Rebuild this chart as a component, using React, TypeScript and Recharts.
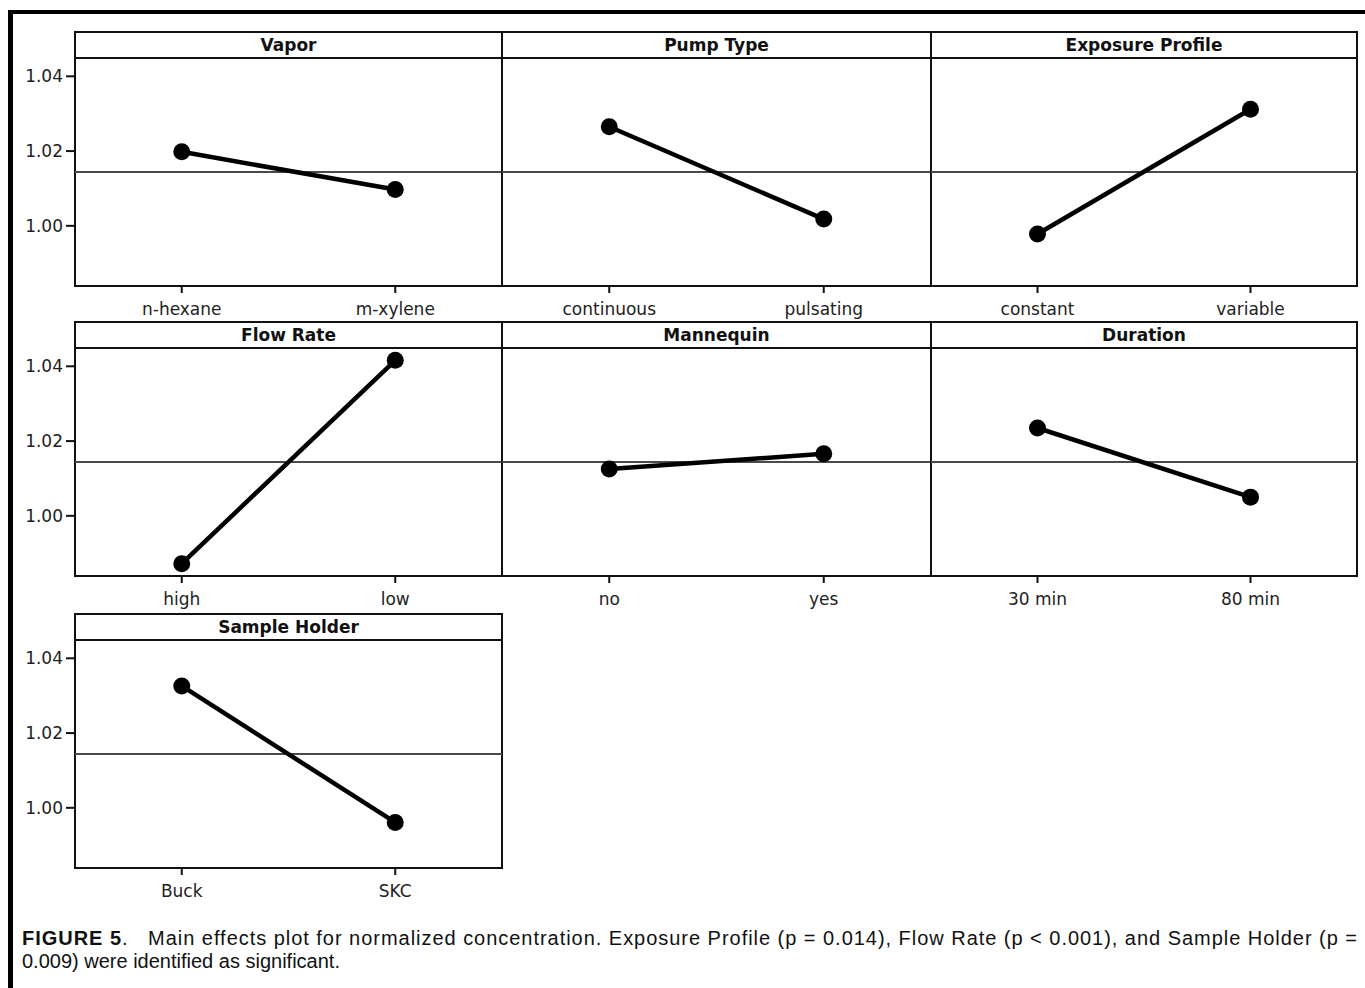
import React from "react";
import { LineChart, Line, XAxis, YAxis, ReferenceLine, ReferenceArea } from "recharts";

// factor names, their two levels and the level means
const factors = ["Vapor", "Pump Type", "Exposure Profile", "Flow Rate", "Mannequin", "Duration", "Sample Holder"];
const levels = [
  ["n-hexane", "m-xylene"],
  ["continuous", "pulsating"],
  ["constant", "variable"],
  ["high", "low"],
  ["no", "yes"],
  ["30 min", "80 min"],
  ["Buck", "SKC"],
];
const means = [
  [1.0198, 1.0097],
  [1.0265, 1.0018],
  [0.9978, 1.0312],
  [0.9872, 1.0416],
  [1.0125, 1.0166],
  [1.0235, 1.005],
  [1.0326, 0.9961],
];
const grandMean = 1.0144;
const yTicks = [1.0, 1.02, 1.04];
const yDomain: [number, number] = [0.9839, 1.0449];

// layout
const COL_X = [75, 502, 931];
const COL_W = [427, 429, 426];
const PLOT_TOP = [58, 348, 640];
const PLOT_H = 228;
const HEADER_H = 26;
const PAD = 2;
const Y_AXIS_W = 75;
const X_AXIS_H = 44;
const FONT = '"DejaVu Sans", Verdana, sans-serif';
const INK = "#111";

const Panel = ({ idx }: { idx: number }) => {
  const row = Math.floor(idx / 3);
  const col = idx % 3;
  const x0 = COL_X[col];
  const w = COL_W[col];
  const top = PLOT_TOP[row];
  const withY = col === 0;
  const leftOff = withY ? Y_AXIS_W : PAD;
  const data = levels[idx].map((name, i) => ({ x: i, name, mean: means[idx][i] }));

  return (
    <>
      <div
        style={{
          position: "absolute",
          left: x0 - 1,
          top: top - HEADER_H - 1,
          width: w + 2,
          height: HEADER_H + 2,
          border: `2px solid ${INK}`,
          boxSizing: "border-box",
          fontFamily: FONT,
          fontWeight: "bold",
          fontSize: 17,
          lineHeight: "25px",
          textAlign: "center",
          color: "#111",
        }}
      >
        {factors[idx]}
      </div>
      <div style={{ position: "absolute", left: x0 - leftOff, top: top - PAD }}>
        <LineChart
          width={leftOff + w + PAD}
          height={PAD + PLOT_H + X_AXIS_H}
          data={data}
          margin={{ top: PAD, right: PAD, bottom: 0, left: withY ? 0 : PAD }}
        >
          <XAxis
            dataKey="x"
            type="number"
            domain={[-0.5, 1.5]}
            ticks={[0, 1]}
            interval={0}
            allowDataOverflow
            tickFormatter={(v: number) => levels[idx][v]}
            height={X_AXIS_H}
            axisLine={false}
            tickSize={7}
            tickMargin={10}
            tickLine={{ stroke: INK, strokeWidth: 2 }}
            tick={{ fill: "#222", fontSize: 17, fontFamily: FONT }}
          />
          <YAxis
            type="number"
            domain={yDomain}
            allowDataOverflow
            ticks={yTicks}
            hide={!withY}
            width={Y_AXIS_W}
            axisLine={false}
            tickSize={9}
            tickMargin={3}
            tickFormatter={(v: number) => v.toFixed(2)}
            tickLine={{ stroke: INK, strokeWidth: 2 }}
            tick={{ fill: "#222", fontSize: 17, fontFamily: FONT }}
          />
          <ReferenceArea
            y1={yDomain[0]}
            y2={yDomain[1]}
            ifOverflow="visible"
            fill="none"
            fillOpacity={0}
            stroke={INK}
            strokeWidth={2}
          />
          <ReferenceLine y={grandMean} stroke="#4a4a4a" strokeWidth={2} />
          <Line
            dataKey="mean"
            stroke="#000"
            strokeWidth={4.5}
            dot={{ r: 8.5, fill: "#000", stroke: "none" }}
            activeDot={false}
            isAnimationActive={false}
          />
        </LineChart>
      </div>
    </>
  );
};

export default function App() {
  return (
    <div
      style={{
        position: "absolute",
        left: 0,
        top: 0,
        width: 1365,
        height: 988,
        overflow: "hidden",
        background: "#fff",
      }}
    >
      <div
        style={{
          position: "absolute",
          left: 8,
          top: 10,
          width: 1400,
          height: 1000,
          borderTop: "4px solid #000",
          borderLeft: "5px solid #000",
          boxSizing: "border-box",
        }}
      />
      {factors.map((_, i) => (
        <Panel key={i} idx={i} />
      ))}
      <svg
        width={1365}
        height={64}
        style={{ position: "absolute", left: 0, top: 920 }}
        fontFamily='"Liberation Sans", Arial, Helvetica, sans-serif'
        fontSize={20}
        fill="#111"
      >
        <text x={22} y={25} textLength={1335} lengthAdjust="spacing" style={{ whiteSpace: "pre" }}>
          <tspan fontWeight="bold">FIGURE 5</tspan>
          <tspan>{".   Main effects plot for normalized concentration. Exposure Profile (p = 0.014), Flow Rate (p < 0.001), and Sample Holder (p ="}</tspan>
        </text>
        <text x={22} y={48}>0.009) were identified as significant.</text>
      </svg>
    </div>
  );
}
